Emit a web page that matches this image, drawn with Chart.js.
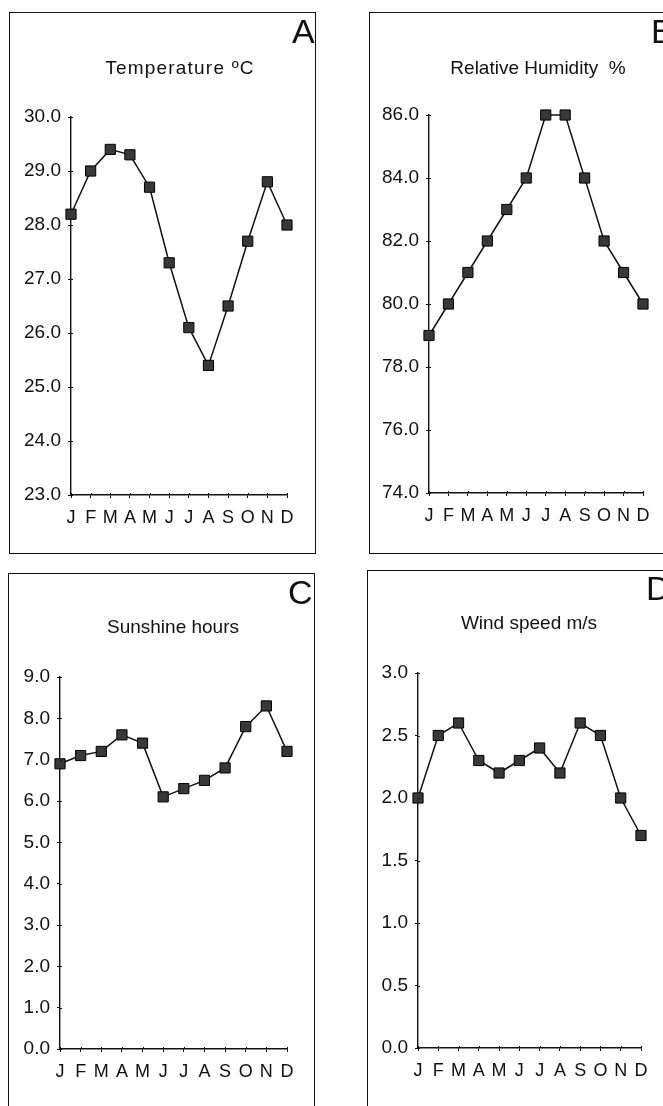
<!DOCTYPE html>
<html>
<head>
<meta charset="utf-8">
<script src="https://cdn.jsdelivr.net/npm/chart.js@4.4.0/dist/chart.umd.min.js"></script>
<style>
  html, body { margin: 0; padding: 0; background: #fff; overflow: hidden; }
  body { width: 663px; height: 1106px; position: relative; }
  canvas, .box, .title, .letter { position: absolute; }
  .box { border: 1.5px solid #111; box-sizing: border-box; pointer-events: none; }
  .title { font-family: "Liberation Sans", Arial, sans-serif; font-size: 19px; color: #111;
           transform: translate(-50%, -50%); white-space: pre; }
  .title.wide { letter-spacing: 1.2px; }
  .letter { font-family: "Liberation Sans", Arial, sans-serif; font-size: 34px; color: #111;
            line-height: 1; }
</style>
</head>
<body>
<script>
const months = ['J', 'F', 'M', 'A', 'M', 'J', 'J', 'A', 'S', 'O', 'N', 'D'];

const temperature = [28.2, 29.0, 29.4, 29.3, 28.7, 27.3, 26.1, 25.4, 26.5, 27.7, 28.8, 28.0];
const humidity = [79, 80, 81, 82, 83, 84, 86, 86, 84, 82, 81, 80];
const sunshine = [6.9, 7.1, 7.2, 7.6, 7.4, 6.1, 6.3, 6.5, 6.8, 7.8, 8.3, 7.2];
const wind = [2.0, 2.5, 2.6, 2.3, 2.2, 2.3, 2.4, 2.2, 2.6, 2.5, 2.0, 1.7];

// panel layout, page pixels
const panels = [
  { id: 'A', title: 'Temperature ºC', wide: true, data: temperature, min: 23, max: 30, step: 1,
    box: { x: 9, y: 12, w: 307, h: 542 }, plot: { left: 71, top: 117, right: 287, bottom: 495 },
    titleAt: [180, 68], letterAt: [292, 14] },
  { id: 'B', title: 'Relative Humidity  %', data: humidity, min: 74, max: 86, step: 2,
    box: { x: 369, y: 12, w: 330, h: 542 }, plot: { left: 429, top: 115, right: 643, bottom: 493 },
    titleAt: [538, 68], letterAt: [651, 14] },
  { id: 'C', title: 'Sunshine hours', data: sunshine, min: 0, max: 9, step: 1,
    box: { x: 8, y: 573, w: 307, h: 560 }, plot: { left: 60, top: 677, right: 287, bottom: 1049 },
    titleAt: [173, 627], letterAt: [288, 575] },
  { id: 'D', title: 'Wind speed m/s', data: wind, min: 0, max: 3, step: 0.5,
    box: { x: 367, y: 570, w: 330, h: 560 }, plot: { left: 418, top: 673, right: 641, bottom: 1048 },
    titleAt: [529, 623], letterAt: [646, 571] }
];

const ink = '#111';
const xAxisHeight = 40;
const fontFamily = '"Liberation Sans", Arial, sans-serif';

// short tick stubs on the inner side of each axis
const innerTicks = {
  id: 'innerTicks',
  afterDraw(chart) {
    const { ctx, chartArea, scales } = chart;
    ctx.save();
    ctx.strokeStyle = ink;
    ctx.lineWidth = 1;
    ctx.beginPath();
    scales.y.ticks.forEach((t, i) => {
      const py = Math.round(scales.y.getPixelForTick(i)) + 0.5;
      ctx.moveTo(chartArea.left, py);
      ctx.lineTo(chartArea.left + 2, py);
    });
    scales.x.ticks.forEach((t, i) => {
      const px = Math.round(scales.x.getPixelForTick(i)) + 0.5;
      ctx.moveTo(px, chartArea.bottom);
      ctx.lineTo(px, chartArea.bottom - 2);
    });
    ctx.stroke();
    ctx.restore();
  }
};

function addDiv(cls, text, x, y) {
  const d = document.createElement('div');
  d.className = cls;
  d.textContent = text;
  d.style.left = x + 'px';
  d.style.top = y + 'px';
  document.body.appendChild(d);
}

panels.forEach(p => {
  const b = p.box, a = p.plot;
  const canvas = document.createElement('canvas');
  canvas.width = b.w;
  canvas.height = b.h;
  canvas.style.left = b.x + 'px';
  canvas.style.top = b.y + 'px';
  document.body.appendChild(canvas);

  const frame = document.createElement('div');
  frame.className = 'box';
  frame.style.left = b.x + 'px';
  frame.style.top = b.y + 'px';
  frame.style.width = b.w + 'px';
  frame.style.height = b.h + 'px';
  document.body.appendChild(frame);

  addDiv(p.wide ? 'title wide' : 'title', p.title, p.titleAt[0], p.titleAt[1]);
  addDiv('letter', p.id, p.letterAt[0], p.letterAt[1]);

  new Chart(canvas.getContext('2d'), {
    type: 'line',
    data: {
      labels: months,
      datasets: [{
        data: p.data,
        borderColor: ink,
        borderWidth: 1.5,
        tension: 0,
        pointStyle: 'rect',
        pointRadius: 7.2,
        pointBackgroundColor: '#383838',
        pointBorderColor: '#000',
        pointBorderWidth: 1,
        clip: false
      }]
    },
    options: {
      responsive: false,
      animation: false,
      layout: {
        padding: {
          left: 0,
          top: a.top - b.y,
          right: b.x + b.w - a.right,
          bottom: b.y + b.h - a.bottom - xAxisHeight
        }
      },
      plugins: { legend: { display: false }, tooltip: { enabled: false } },
      scales: {
        x: {
          offset: false,
          afterFit: s => { s.height = xAxisHeight; },
          grid: { drawOnChartArea: false, tickLength: 3, color: ink },
          border: { color: ink, width: 1.4 },
          ticks: { color: ink, padding: 9, maxRotation: 0, autoSkip: false,
                   font: { family: fontFamily, size: 18 } }
        },
        y: {
          min: p.min,
          max: p.max,
          afterFit: s => { s.width = a.left - b.x; },
          grid: { drawOnChartArea: false, tickLength: 3, color: ink },
          border: { color: ink, width: 1.4 },
          ticks: { color: ink, padding: 7, stepSize: p.step,
                   callback: v => Number(v).toFixed(1),
                   font: { family: fontFamily, size: 19 } }
        }
      }
    },
    plugins: [innerTicks]
  });
});
</script>
</body>
</html>
